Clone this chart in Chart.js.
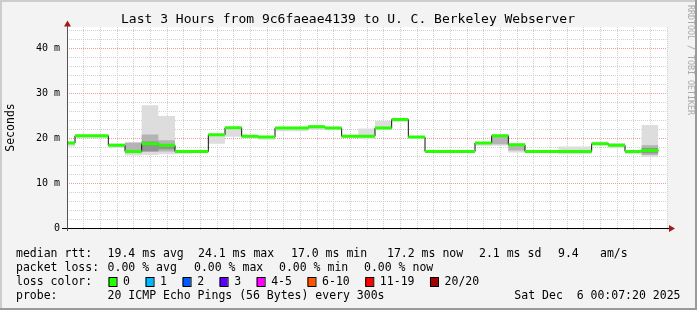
<!DOCTYPE html>
<html>
<head>
<meta charset="utf-8">
<script src="https://cdn.jsdelivr.net/npm/chart.js@4.4.1/dist/chart.umd.min.js"></script>
<style>
  html, body { margin: 0; padding: 0; background: #f3f3f3; }
  #wrap { width: 697px; height: 310px; }
</style>
</head>
<body>
<div id="wrap"><canvas id="grafico" width="697" height="310"></canvas></div>
<script>
// 5-minute slots (start time), values in ms
const slots = ["21:05","21:10","21:15","21:20","21:25","21:30","21:35","21:40","21:45","21:50","21:55",
  "22:00","22:05","22:10","22:15","22:20","22:25","22:30","22:35","22:40","22:45","22:50","22:55",
  "23:00","23:05","23:10","23:15","23:20","23:25","23:30","23:35","23:40","23:45","23:50","23:55","00:00"];

const median = [18.9, 20.5, 20.5, 18.4, 17.0, 18.7, 18.4, 17.0, 17.0, 20.7, 22.3,
  20.4, 20.2, 22.2, 22.2, 22.5, 22.2, 20.4, 20.4, 22.2, 24.1, 20.2, 17.0,
  17.0, 17.0, 18.9, 20.5, 18.5, 17.0, 17.0, 17.0, 17.0, 18.7, 18.4, 17.0, 17.2];

// smoke: outer (all pings), middle and inner bands
const smokeOuterLo = [18.1, 19.9, 19.9, 17.8, 16.1, 16.2, 16.4, 16.5, 17.0, 18.7, 20.3,
  19.9, 19.6, 21.5, 21.5, 21.8, 21.8, 20.0, 19.7, 22.1, 23.6, 19.8, 16.9,
  16.9, 16.9, 18.3, 18.3, 16.8, 16.8, 16.8, 16.4, 16.4, 18.4, 17.7, 16.4, 15.8];
const smokeOuterHi = [19.2, 20.7, 20.7, 18.8, 19.0, 27.3, 24.9, 17.0, 17.0, 20.8, 22.3,
  20.5, 20.2, 22.2, 22.2, 22.9, 22.5, 20.4, 22.1, 23.8, 24.1, 20.2, 17.2,
  17.2, 17.2, 18.9, 20.8, 18.8, 17.2, 17.2, 18.1, 18.1, 19.2, 18.9, 17.3, 22.9];
const smokeMidLo = [18.9, 20.5, 20.5, 18.4, 16.6, 17.0, 17.0, 17.0, 17.0, 20.7, 22.3,
  20.4, 20.2, 22.2, 22.2, 22.5, 22.2, 20.4, 20.4, 22.2, 24.1, 20.2, 17.0,
  17.0, 17.0, 18.9, 18.6, 17.2, 17.0, 17.0, 17.0, 17.0, 18.7, 18.4, 17.0, 16.2];
const smokeMidHi = [18.9, 20.5, 20.5, 18.4, 19.0, 20.8, 19.5, 17.0, 17.0, 20.7, 22.3,
  20.4, 20.2, 22.2, 22.2, 22.5, 22.2, 20.4, 20.4, 22.2, 24.1, 20.2, 17.0,
  17.0, 17.0, 18.9, 20.4, 18.6, 17.0, 17.0, 17.0, 17.0, 18.7, 18.4, 17.0, 18.4];
const smokeInLo = [18.9, 20.5, 20.5, 18.4, 17.0, 17.0, 17.5, 17.0, 17.0, 20.7, 22.3,
  20.4, 20.2, 22.2, 22.2, 22.5, 22.2, 20.4, 20.4, 22.2, 24.1, 20.2, 17.0,
  17.0, 17.0, 18.9, 20.5, 18.5, 17.0, 17.0, 17.0, 17.0, 18.7, 18.4, 17.0, 16.6];
const smokeInHi = [18.9, 20.5, 20.5, 18.4, 17.0, 19.2, 18.4, 17.0, 17.0, 20.7, 22.3,
  20.4, 20.2, 22.2, 22.2, 22.5, 22.2, 20.4, 20.4, 22.2, 24.1, 20.2, 17.0,
  17.0, 17.0, 18.9, 20.5, 18.5, 17.0, 17.0, 17.0, 17.0, 18.7, 18.4, 17.0, 17.8];

const titulo = "Last 3 Hours from 9c6faeae4139 to U. C. Berkeley Webserver";
const statsRtt = ["19.4 ms avg", "24.1 ms max", "17.0 ms min", "17.2 ms now", "2.1 ms sd", "9.4", "am/s"];
const statsLoss = ["0.00 % avg", "0.00 % max", "0.00 % min", "0.00 % now"];
const lossLabels = ["0", "1", "2", "3", "4-5", "6-10", "11-19", "20/20"];
const lossColors = ["#26ff00", "#00b8ff", "#0059ff", "#5e00ff", "#ff00ff", "#ff5500", "#ff0000", "#a00000"];
const probeText = "20 ICMP Echo Pings (56 Bytes) every 300s";
const fechaText = "Sat Dec  6 00:07:20 2025";

const STEP = 5;          // minutes per slot
const X_MIN = 7.6;       // 21:07:36
const X_MAX = 187.6;     // 00:07:36

function toMin(s) {
  let [h, m] = s.split(":").map(Number);
  if (h < 21) h += 24;
  return (h - 21) * 60 + m;
}
function fmtMin(v) {
  const t = 21 * 60 + v;
  const h = Math.floor(t / 60) % 24, m = t % 60;
  return String(h).padStart(2, "0") + ":" + String(m).padStart(2, "0");
}

const xs = slots.map(toMin);
// stepped series: value holds until next slot, close last slot
function escalon(vals) {
  const pts = xs.map((x, i) => ({ x, y: vals[i] }));
  pts.push({ x: xs[xs.length - 1] + STEP, y: vals[vals.length - 1] });
  return pts;
}
// only the horizontal pieces (coloured median)
function tramos(vals) {
  const pts = [];
  xs.forEach((x, i) => {
    pts.push({ x, y: vals[i] }, { x: x + STEP, y: vals[i] }, { x: x + STEP, y: null });
  });
  return pts;
}

const banda = (data, fill, color, order) => ({
  data: escalon(data), stepped: "before", fill, backgroundColor: color,
  borderColor: "transparent", borderWidth: 0, pointRadius: 0, order
});

const mono = '"DejaVu Sans Mono", monospace';

const fondo = {
  id: "fondo",
  beforeDraw(chart) {
    const { ctx, chartArea: a } = chart;
    ctx.save();
    ctx.fillStyle = "#f3f3f3";
    ctx.fillRect(0, 0, 697, 310);
    ctx.fillStyle = "#cdcdcd";
    ctx.fillRect(0, 0, 697, 2);
    ctx.fillRect(0, 0, 2, 310);
    ctx.fillStyle = "#9a9a9a";
    ctx.fillRect(695, 0, 2, 310);
    ctx.fillRect(0, 308, 697, 2);
    ctx.fillStyle = "#ffffff";
    ctx.fillRect(a.left, a.top, a.right - a.left, a.bottom - a.top);
    ctx.restore();
  }
};

const textos = {
  id: "textos",
  afterDraw(chart) {
    const { ctx, chartArea: a } = chart;
    ctx.save();
    // ejes y flechas
    ctx.lineWidth = 1;
    ctx.strokeStyle = "#000";
    ctx.beginPath();
    ctx.moveTo(62, a.bottom + 0.5);
    ctx.lineTo(670, a.bottom + 0.5);
    ctx.stroke();
    ctx.strokeStyle = "#555";
    ctx.beginPath();
    ctx.moveTo(a.left + 0.5, a.bottom + 3);
    ctx.lineTo(a.left + 0.5, a.top - 1);
    ctx.stroke();
    ctx.fillStyle = "#a11a1a";
    ctx.beginPath();
    ctx.moveTo(a.left + 0.5, 20.5);
    ctx.lineTo(a.left - 3, 26.5);
    ctx.lineTo(a.left + 4, 26.5);
    ctx.closePath();
    ctx.fill();
    ctx.beginPath();
    ctx.moveTo(675, a.bottom + 0.5);
    ctx.lineTo(669, a.bottom - 3);
    ctx.lineTo(669, a.bottom + 4);
    ctx.closePath();
    ctx.fill();

    // titulo
    ctx.fillStyle = "#000";
    ctx.font = "13px " + mono;
    ctx.textAlign = "center";
    ctx.textBaseline = "middle";
    ctx.fillText(titulo, 348, 19.5);

    // marca de agua
    ctx.save();
    ctx.translate(690, 60);
    ctx.rotate(Math.PI / 2);
    ctx.font = "8.3px " + mono;
    ctx.fillStyle = "#a8a8a8";
    ctx.fillText("RRDTOOL / TOBI OETIKER", 0, 0);
    ctx.restore();

    // leyenda
    ctx.font = "11.5px " + mono;
    ctx.textAlign = "left";
    ctx.fillStyle = "#000";
    const fila = (y, piezas) => piezas.forEach(([x, t]) => ctx.fillText(t, x, y));
    fila(254, [[16, "median rtt:"], [107.6, statsRtt[0]], [198, statsRtt[1]], [291, statsRtt[2]],
      [387, statsRtt[3]], [479, statsRtt[4]], [558, statsRtt[5]], [600, statsRtt[6]]]);
    fila(268, [[16, "packet loss:"], [107.6, statsLoss[0]], [194, statsLoss[1]], [279, statsLoss[2]], [364, statsLoss[3]]]);
    fila(282, [[16, "loss color:"]]);
    let x = 108.5;
    lossLabels.forEach((lab, i) => {
      ctx.fillStyle = lossColors[i];
      ctx.fillRect(x, 278, 8, 8);
      ctx.strokeStyle = "#000";
      ctx.strokeRect(x + 0.5, 277.5, 8, 9);
      ctx.fillStyle = "#000";
      ctx.fillText(lab, x + 14.6, 282);
      x += 14.6 + ctx.measureText(lab).width + 15.5;
    });
    fila(296, [[16, "probe:"], [107.6, probeText]]);
    ctx.textAlign = "right";
    ctx.fillText(fechaText, 680.5, 296);
    ctx.restore();
  }
};

const ctx = document.getElementById("grafico").getContext("2d");
new Chart(ctx, {
  type: "line",
  data: {
    datasets: [
      banda(smokeOuterLo, false, "#dddddd", 10),
      banda(smokeOuterHi, "-1", "#dddddd", 10),
      banda(smokeMidLo, false, "#b4b4b4", 8),
      banda(smokeMidHi, "-1", "#b4b4b4", 8),
      banda(smokeInLo, false, "#929292", 6),
      banda(smokeInHi, "-1", "#929292", 6),
      {
        data: escalon(median), stepped: "before", borderColor: "#111", borderWidth: 1,
        pointRadius: 0, fill: false, order: 2
      },
      {
        data: tramos(median), borderColor: lossColors[0], borderWidth: 3, borderCapStyle: "butt",
        pointRadius: 0, fill: false, spanGaps: false, order: 1
      }
    ]
  },
  options: {
    responsive: false,
    animation: false,
    devicePixelRatio: 1,
    layout: { padding: { top: 27, right: 30, bottom: 62, left: 0 } },
    plugins: { legend: { display: false }, tooltip: { enabled: false } },
    scales: {
      x: {
        type: "linear", min: X_MIN, max: X_MAX,
        afterFit: s => { s.height = 20; },
        border: { display: false, dash: [1, 1] },
        grid: {
          color: c => (c.tick && c.tick.value % 20 === 0) ? "#f09a9a" : "#d0d0d0",
          tickLength: 2, tickBorderDash: [], drawTicks: true
        },
        ticks: {
          stepSize: 5, autoSkip: false, maxRotation: 0, padding: 2, color: "#000",
          font: { family: mono, size: 10 },
          callback: v => (v % 20 === 0) ? fmtMin(v) : ""
        }
      },
      y: {
        min: 0, max: 44.67,
        afterFit: s => { s.width = 67; },
        border: { display: false, dash: [1, 1] },
        grid: {
          color: c => (c.tick && c.tick.value % 10 === 0) ? "#f09a9a" : "#d0d0d0",
          drawTicks: false
        },
        ticks: {
          stepSize: 2, includeBounds: false, autoSkip: false, padding: 7, color: "#000",
          font: { family: mono, size: 10 },
          callback: v => v === 0 ? "0" : (v % 10 === 0 ? v + " m" : "")
        },
        title: {
          display: true, text: "Seconds", color: "#000",
          font: { family: mono, size: 11.5 }, padding: { top: 4, bottom: 0 }
        }
      }
    }
  },
  plugins: [fondo, textos]
});
</script>
</body>
</html>
